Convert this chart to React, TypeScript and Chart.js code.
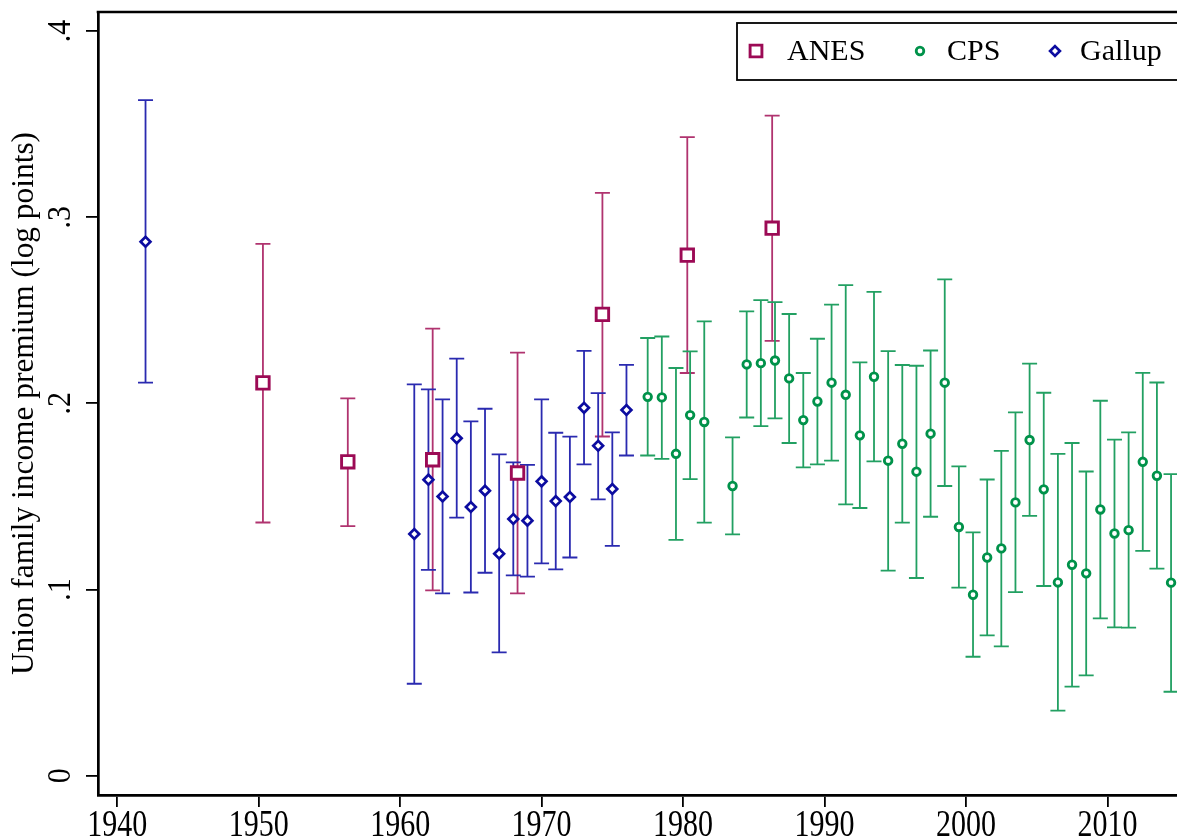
import React, { useEffect, useRef } from 'react';
import { Chart, registerables } from 'chart.js';

Chart.register(...registerables);

const FONT = '"Liberation Serif", "Times New Roman", serif';

// ---------- data ----------
const anesYears = [1950.3, 1956.3, 1962.3, 1968.3, 1974.3, 1980.3, 1986.3];
const anesValues = [0.211, 0.1686, 0.1697, 0.1626, 0.2478, 0.2796, 0.2941];
const anesLow = [0.136, 0.1341, 0.0995, 0.0979, 0.1822, 0.2163, 0.2336];
const anesHigh = [0.2857, 0.2027, 0.2401, 0.2273, 0.3131, 0.343, 0.3546];

const gallupYears = [1942, 1961, 1962, 1963, 1964, 1965, 1966, 1967, 1968, 1969, 1970, 1971, 1972, 1973, 1974, 1975, 1976];
const gallupValues = [0.2868, 0.1298, 0.159, 0.15, 0.1812, 0.1443, 0.1531, 0.1192, 0.1379, 0.137, 0.1581, 0.1475, 0.1497, 0.1976, 0.1772, 0.154, 0.1964];
const gallupLow = [0.2111, 0.0494, 0.1106, 0.0979, 0.1386, 0.0984, 0.109, 0.0662, 0.1076, 0.1069, 0.114, 0.1108, 0.1172, 0.1672, 0.1484, 0.1234, 0.172];
const gallupHigh = [0.3629, 0.2102, 0.2075, 0.2021, 0.224, 0.1903, 0.1971, 0.1726, 0.1683, 0.167, 0.2021, 0.1842, 0.1821, 0.2282, 0.2055, 0.1844, 0.2207];

const cpsYears = [1977.5, 1978.5, 1979.5, 1980.5, 1981.5, 1983.5, 1984.5, 1985.5, 1986.5, 1987.5, 1988.5, 1989.5, 1990.5, 1991.5, 1992.5, 1993.5, 1994.5, 1995.5, 1996.5, 1997.5, 1998.5, 1999.5, 2000.5, 2001.5, 2002.5, 2003.5, 2004.5, 2005.5, 2006.5, 2007.5, 2008.5, 2009.5, 2010.5, 2011.5, 2012.5, 2013.5, 2014.5];
const cpsValues = [0.2035, 0.2032, 0.1729, 0.1937, 0.19, 0.1556, 0.2209, 0.2216, 0.223, 0.2134, 0.191, 0.201, 0.2111, 0.2046, 0.1828, 0.2143, 0.1692, 0.1783, 0.1633, 0.1837, 0.2111, 0.1336, 0.0972, 0.1172, 0.1221, 0.1468, 0.1803, 0.1538, 0.1038, 0.1133, 0.1087, 0.143, 0.1301, 0.1319, 0.1686, 0.1611, 0.1037];
const cpsLow = [0.172, 0.1702, 0.1267, 0.1593, 0.1359, 0.1296, 0.1924, 0.1878, 0.1919, 0.1787, 0.1656, 0.1672, 0.1692, 0.1457, 0.1438, 0.1688, 0.1101, 0.1359, 0.1062, 0.1391, 0.1556, 0.101, 0.0639, 0.0754, 0.0695, 0.0986, 0.1396, 0.1019, 0.0349, 0.0478, 0.0539, 0.0845, 0.0797, 0.0795, 0.1208, 0.1112, 0.0451];
const cpsHigh = [0.2351, 0.2359, 0.219, 0.2279, 0.244, 0.1817, 0.2494, 0.2555, 0.2544, 0.248, 0.2163, 0.2347, 0.253, 0.2635, 0.222, 0.2599, 0.2281, 0.2206, 0.2202, 0.2284, 0.2666, 0.1661, 0.1307, 0.1591, 0.1745, 0.1951, 0.2213, 0.2057, 0.1729, 0.1787, 0.1634, 0.2014, 0.1805, 0.1844, 0.2164, 0.2112, 0.162];

const xTicks = [1940, 1950, 1960, 1970, 1980, 1990, 2000, 2010];
const yTicks = [0, 0.1, 0.2, 0.3, 0.4];
const yTitle = 'Union family income premium (log points)';
const seriesNames = ['ANES', 'CPS', 'Gallup'];

// ---------- styles ----------
const COLORS: Record<string, string> = { ANES: '#9c0a55', CPS: '#00924a', Gallup: '#0c0ca0' };
const BAR_COLORS: Record<string, string> = { ANES: '#b0336f', CPS: '#22a062', Gallup: '#2a2ab0' };
const MARKERS: Record<string, { style: string; r: number; w: number }> = {
  ANES: { style: 'rect', r: 8.8, w: 2.9 },
  CPS: { style: 'circle', r: 3.8, w: 2.8 },
  Gallup: { style: 'rectRot', r: 4.9, w: 2.7 },
};

const fmtY = (v: number) => (v === 0 ? '0' : String(Number(v.toFixed(1))).replace(/^0/, ''));

const toPoints = (xs: number[], ys: number[]) => xs.map((x, i) => ({ x, y: ys[i] }));

const errorBars: Record<string, { lo: number[]; hi: number[] }> = {
  ANES: { lo: anesLow, hi: anesHigh },
  CPS: { lo: cpsLow, hi: cpsHigh },
  Gallup: { lo: gallupLow, hi: gallupHigh },
};

const errorBarPlugin = {
  id: 'errorBars',
  beforeDatasetsDraw(chart: any) {
    const { ctx, scales } = chart;
    const x = scales.x, y = scales.y;
    chart.data.datasets.forEach((ds: any) => {
      const eb = errorBars[ds.label];
      if (!eb) return;
      ctx.save();
      ctx.strokeStyle = BAR_COLORS[ds.label];
      ctx.lineWidth = 1.8;
      ds.data.forEach((p: any, j: number) => {
        const px = x.getPixelForValue(p.x);
        const yl = y.getPixelForValue(eb.lo[j]);
        const yh = y.getPixelForValue(eb.hi[j]);
        const cap = 7.5;
        ctx.beginPath();
        ctx.moveTo(px, yl);
        ctx.lineTo(px, yh);
        ctx.moveTo(px - cap, yl);
        ctx.lineTo(px + cap, yl);
        ctx.moveTo(px - cap, yh);
        ctx.lineTo(px + cap, yh);
        ctx.stroke();
      });
      ctx.restore();
    });
  },
};

function drawMarker(ctx: CanvasRenderingContext2D, style: string, cx: number, cy: number, r: number) {
  ctx.beginPath();
  if (style === 'rect') {
    const s = r * Math.SQRT1_2;
    ctx.rect(cx - s, cy - s, 2 * s, 2 * s);
  } else if (style === 'circle') {
    ctx.arc(cx, cy, r, 0, Math.PI * 2);
  } else {
    ctx.moveTo(cx, cy - r);
    ctx.lineTo(cx + r, cy);
    ctx.lineTo(cx, cy + r);
    ctx.lineTo(cx - r, cy);
    ctx.closePath();
  }
  ctx.fillStyle = '#fff';
  ctx.fill();
  ctx.stroke();
}

const decorPlugin = {
  id: 'decor',
  afterDraw(chart: any) {
    const { ctx, chartArea: a, scales } = chart;
    const x = scales.x, y = scales.y;
    ctx.save();
    // plot frame (top and right)
    ctx.strokeStyle = '#000';
    ctx.lineWidth = 2.6;
    ctx.beginPath();
    ctx.moveTo(a.left - 1.3, a.top);
    ctx.lineTo(a.right, a.top);
    ctx.lineTo(a.right, a.bottom);
    ctx.stroke();

    ctx.fillStyle = '#000';
    // x tick labels (tall serif digits)
    ctx.font = `30px ${FONT}`;
    ctx.textAlign = 'center';
    ctx.textBaseline = 'alphabetic';
    xTicks.forEach((v) => {
      const px = x.getPixelForValue(v);
      ctx.save();
      ctx.translate(px, 810);
      ctx.scale(1, 1.28);
      ctx.fillText(String(v), 0, 20.3);
      ctx.restore();
    });

    // y tick labels (rotated)
    yTicks.forEach((v) => {
      const py = y.getPixelForValue(v);
      ctx.save();
      ctx.translate(70, py);
      ctx.rotate(-Math.PI / 2);
      ctx.scale(1, 1.15);
      ctx.fillText(fmtY(v), 0, 0);
      ctx.restore();
    });

    // y title
    ctx.font = `31.4px ${FONT}`;
    ctx.save();
    ctx.translate(33, (a.top + a.bottom) / 2);
    ctx.rotate(-Math.PI / 2);
    ctx.fillText(yTitle, 0, 0);
    ctx.restore();

    // legend
    const boxL = 737, boxT = 23, boxB = 80, boxR = 1200;
    ctx.lineWidth = 1.8;
    ctx.strokeStyle = '#000';
    ctx.fillStyle = '#fff';
    ctx.fillRect(boxL, boxT, boxR - boxL, boxB - boxT);
    ctx.strokeRect(boxL, boxT, boxR - boxL, boxB - boxT);
    const cy = 51;
    const items = [
      { name: seriesNames[0], mx: 756, tx: 787 },
      { name: seriesNames[1], mx: 920, tx: 947 },
      { name: seriesNames[2], mx: 1055, tx: 1080 },
    ];
    items.forEach((it) => {
      const m = MARKERS[it.name];
      ctx.strokeStyle = COLORS[it.name];
      ctx.lineWidth = m.w;
      drawMarker(ctx, m.style, it.mx, cy, m.style === 'rect' ? m.r * 0.95 : m.r);
      ctx.fillStyle = '#000';
      ctx.font = `30px ${FONT}`;
      ctx.textAlign = 'left';
      ctx.textBaseline = 'middle';
      ctx.fillText(it.name, it.tx, cy + 1);
    });
    ctx.restore();
  },
};

const makeDataset = (name: string, xs: number[], ys: number[]) => ({
  label: name,
  data: toPoints(xs, ys),
  pointStyle: MARKERS[name].style,
  pointRadius: MARKERS[name].r,
  pointBorderWidth: MARKERS[name].w,
  borderColor: COLORS[name],
  backgroundColor: '#fff',
});

export default function App() {
  const ref = useRef<HTMLCanvasElement | null>(null);

  useEffect(() => {
    if (!ref.current) return;
    const chart = new Chart(ref.current, {
      type: 'scatter',
      data: {
        datasets: [
          makeDataset('ANES', anesYears, anesValues),
          makeDataset('CPS', cpsYears, cpsValues),
          makeDataset('Gallup', gallupYears, gallupValues),
        ] as any,
      },
      options: {
        animation: false,
        responsive: false,
        devicePixelRatio: 1,
        layout: { autoPadding: false, padding: { left: 0, top: 12, right: 20, bottom: 0 } },
        plugins: { legend: { display: false }, tooltip: { enabled: false } },
        scales: {
          x: {
            type: 'linear',
            min: 1938.64,
            max: 2017.96,
            afterBuildTicks: (s: any) => {
              s.ticks = xTicks.map((v) => ({ value: v }));
            },
            afterFit: (s: any) => {
              s.height = 45;
            },
            border: { color: '#000', width: 2.7 },
            grid: { drawOnChartArea: false, drawTicks: true, tickLength: 12, color: '#000', lineWidth: 1.8 },
            ticks: {
              color: 'rgba(0,0,0,0)',
              font: { family: FONT, size: 12 },
              maxRotation: 0,
              minRotation: 0,
              autoSkip: false,
              callback: (v: any) => String(v),
            },
          },
          y: {
            type: 'linear',
            min: -0.01037,
            max: 0.41021,
            afterBuildTicks: (s: any) => {
              s.ticks = yTicks.map((v) => ({ value: v }));
            },
            afterFit: (s: any) => {
              s.width = 98;
            },
            border: { color: '#000', width: 2.7 },
            grid: { drawOnChartArea: false, drawTicks: true, tickLength: 12, color: '#000', lineWidth: 1.8 },
            ticks: {
              color: 'rgba(0,0,0,0)',
              font: { family: FONT, size: 8 },
              callback: (v: any) => fmtY(Number(v)),
            },
          },
        },
      },
      plugins: [errorBarPlugin, decorPlugin],
    });
    return () => chart.destroy();
  }, []);

  return (
    <div style={{ position: 'absolute', left: 0, top: 0, width: 1177, height: 840, overflow: 'hidden', background: '#fff' }}>
      <canvas ref={ref} width={1240} height={840} style={{ display: 'block' }} />
    </div>
  );
}
